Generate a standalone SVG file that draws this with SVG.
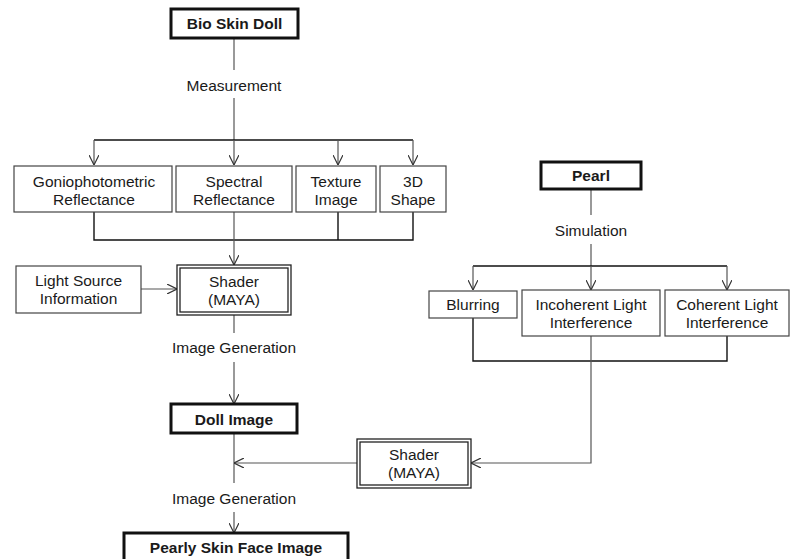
<svg xmlns="http://www.w3.org/2000/svg" width="792" height="559" viewBox="0 0 792 559">
<style>
text{font-family:"Liberation Sans",Arial,sans-serif;font-size:15.5px;fill:#1a1a1a;text-anchor:middle}
.b{font-weight:bold}
.box{fill:#fff;stroke:#444;stroke-width:1.2}
.thick{fill:#fff;stroke:#111;stroke-width:3}
.dbl{fill:#fff;stroke:#222;stroke-width:1.3}
.ln{fill:none;stroke:#555;stroke-width:1.2}
.bk{fill:none;stroke:#111;stroke-width:1.4}
</style>
<defs>
<marker id="ar" viewBox="0 0 10 10" refX="10" refY="5" markerWidth="10" markerHeight="10" markerUnits="userSpaceOnUse" orient="auto">
<path d="M0,0 L10,5 L0,10" fill="none" stroke="#333" stroke-width="1.2"/>
</marker>
</defs>
<rect width="792" height="559" fill="#fff"/>
<g id="connectors">
<path class="ln" d="M234,38 V70"/>
<path class="ln" d="M234,98 V140"/>
<path class="bk" d="M94,140 H413"/>
<path class="ln" d="M94,140 V165" marker-end="url(#ar)"/>
<path class="ln" d="M234,140 V165" marker-end="url(#ar)"/>
<path class="ln" d="M338,140 V165" marker-end="url(#ar)"/>
<path class="ln" d="M413,140 V165" marker-end="url(#ar)"/>
<path class="bk" d="M94,212 V240 H413 V212 M338,212 V240"/>
<path class="ln" d="M234,212 V265" marker-end="url(#ar)"/>
<path class="ln" d="M141,289 H177" marker-end="url(#ar)"/>
<path class="ln" d="M234,315 V333"/>
<path class="ln" d="M234,362 V404" marker-end="url(#ar)"/>
<path class="ln" d="M234,433 V483"/>
<path class="ln" d="M357,463 H234" marker-end="url(#ar)"/>
<path class="ln" d="M234,512 V533" marker-end="url(#ar)"/>
<path class="ln" d="M591,189 V215"/>
<path class="ln" d="M591,244 V266"/>
<path class="bk" d="M473,266 H727"/>
<path class="ln" d="M473,266 V290" marker-end="url(#ar)"/>
<path class="ln" d="M591,266 V290" marker-end="url(#ar)"/>
<path class="ln" d="M727,266 V290" marker-end="url(#ar)"/>
<path class="bk" d="M473,318 V361 H727 V336"/>
<path class="ln" d="M591,336 V463 H471" marker-end="url(#ar)"/>
</g>
<g id="labels">
<text x="234" y="91">Measurement</text>
<text x="234" y="353">Image Generation</text>
<text x="234" y="504">Image Generation</text>
<text x="591" y="236">Simulation</text>
</g>
<g id="bio"><rect class="thick" x="171" y="9" width="127" height="29"/><text class="b" x="234.5" y="29">Bio Skin Doll</text></g>
<g id="gonio"><rect class="box" x="14" y="166" width="158" height="46"/><text x="94" y="187">Goniophotometric</text><text x="94" y="205">Reflectance</text></g>
<g id="spectral"><rect class="box" x="176" y="166" width="116" height="46"/><text x="234" y="187">Spectral</text><text x="234" y="205">Reflectance</text></g>
<g id="texture"><rect class="box" x="296" y="166" width="80" height="46"/><text x="336" y="187">Texture</text><text x="336" y="205">Image</text></g>
<g id="shape3d"><rect class="box" x="380" y="166" width="66" height="46"/><text x="413" y="187">3D</text><text x="413" y="205">Shape</text></g>
<g id="light"><rect class="box" x="16" y="266" width="125" height="47"/><text x="78.5" y="286">Light Source</text><text x="78.5" y="304">Information</text></g>
<g id="shader1"><rect class="dbl" x="177" y="265" width="114" height="50"/><rect class="dbl" x="180" y="268" width="108" height="44"/><text x="234" y="287">Shader</text><text x="234" y="305">(MAYA)</text></g>
<g id="doll"><rect class="thick" x="171" y="404" width="126" height="29"/><text class="b" x="234" y="425">Doll Image</text></g>
<g id="shader2"><rect class="dbl" x="357" y="439" width="114" height="49"/><rect class="dbl" x="360" y="442" width="108" height="43"/><text x="414" y="460">Shader</text><text x="414" y="478">(MAYA)</text></g>
<g id="pearly"><rect class="thick" x="124" y="533" width="224" height="34"/><text class="b" x="236" y="553">Pearly Skin Face Image</text></g>
<g id="pearl"><rect class="thick" x="541" y="162" width="100" height="27"/><text class="b" x="591" y="181">Pearl</text></g>
<g id="blurring"><rect class="box" x="429" y="291" width="88" height="27"/><text x="473" y="310">Blurring</text></g>
<g id="incoherent"><rect class="box" x="522" y="290" width="138" height="46"/><text x="591" y="310">Incoherent Light</text><text x="591" y="328">Interference</text></g>
<g id="coherent"><rect class="box" x="665" y="290" width="124" height="46"/><text x="727" y="310">Coherent Light</text><text x="727" y="328">Interference</text></g>
</svg>
